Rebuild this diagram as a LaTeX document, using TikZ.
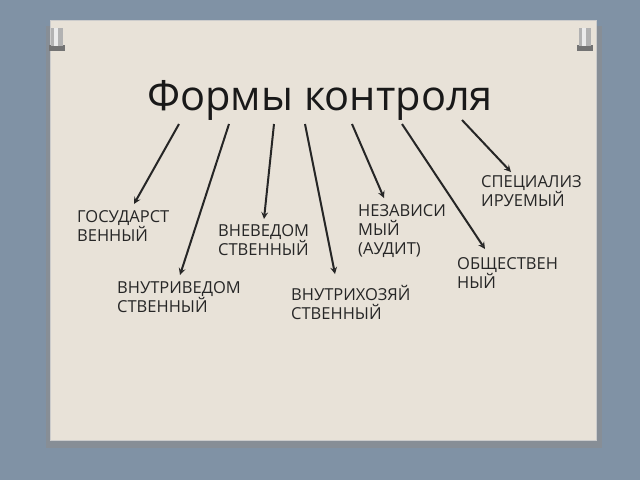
\documentclass[tikz,border=0pt]{standalone}
\usepackage{fontspec}
\setmainfont{Open Sans}
\begin{document}
\begin{tikzpicture}[x=1pt,y=-1pt,
  lbl/.style={anchor=north west,align=left,font=\fontsize{16.5}{19}\selectfont,inner sep=0pt,text=black!85},
  arr/.style={->,>=stealth,line width=2pt,black!85}]
\definecolor{bg}{RGB}{128,146,165}
\definecolor{card}{RGB}{232,226,216}
\fill[bg] (0,0) rectangle (640,480);
\fill[black!45,opacity=0.6] (46,26) rectangle (602,448);
\fill[card] (50,20) rectangle (596,440);
\draw[black!20] (50,20) rectangle (596,440);
% pins
\foreach \px in {57,585}{
  \fill[black!55] (\px-8,45) rectangle (\px+8,51);
  \fill[black!30] (\px-6,28) rectangle (\px+6,46);
  \fill[black!8] (\px-3,28) rectangle (\px+1,46);
}
\node[font=\fontsize{41.5}{45}\selectfont,text=black!90] (title) at (320,100) {Формы контроля};
\node[lbl] (g) at (77,210) {ГОСУДАРСТ\\ВЕННЫЙ};
\node[lbl] (vv) at (218,224) {ВНЕВЕДОМ\\СТВЕННЫЙ};
\node[lbl] (nz) at (358,204) {НЕЗАВИСИ\\МЫЙ\\(АУДИТ)};
\node[lbl] (sp) at (481,175) {СПЕЦИАЛИЗ\\ИРУЕМЫЙ};
\node[lbl] (ob) at (457,257) {ОБЩЕСТВЕН\\НЫЙ};
\node[lbl] (vnv) at (117,281) {ВНУТРИВЕДОМ\\СТВЕННЫЙ};
\node[lbl] (vnh) at (291,285) {ВНУТРИХОЗЯЙ\\СТВЕННЫЙ};
\foreach \n/\a/\b/\c/\d in {1/179/124/134/204, 2/229/124/180/275, 3/274/124/264/219, 4/305/124/335/274, 5/352/124/384/198, 6/402/124/485/249, 7/462/120/511/172}{
  \coordinate (s\n) at (\a,\b);
  \coordinate (e\n) at (\c,\d);
  \draw[arr] (s\n) -- (e\n);
}
\end{tikzpicture}
\end{document}
